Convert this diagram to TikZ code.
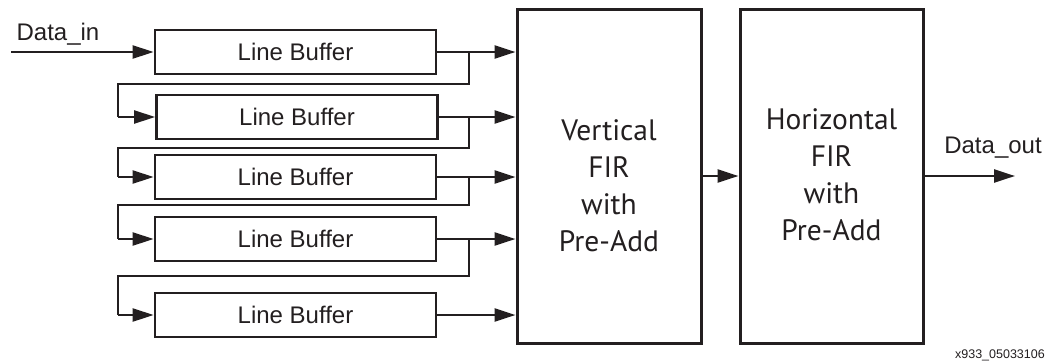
\documentclass[tikz,border=0pt]{standalone}
\usepackage{fontspec}
\setmainfont{Liberation Sans}
\newfontfamily\firfont{PT Sans}
\usetikzlibrary{arrows.meta}
\definecolor{ink}{rgb}{0.137,0.122,0.125}
\tikzset{
  buf/.style={draw=ink, line width=2.8pt, minimum width=281pt, minimum height=44pt, inner sep=0pt, font=\fontsize{24}{28}\selectfont, text=ink},
  fir/.style={draw=ink, line width=3pt, minimum height=334pt, inner sep=0pt},
  firtext/.style={align=center, font=\firfont\fontsize{29.5}{37}\selectfont, text=ink, inner sep=0pt},
  lbl/.style={font=\fontsize{24}{28}\selectfont, text=ink, inner sep=0pt},
  conn/.style={draw=ink, line width=2.4pt},
  loopline/.style={draw=ink, line width=2pt},
  arr/.style={conn, -{Triangle[length=21pt,width=13pt]}},
  tiny/.style={font=\fontsize{12.5}{14}\selectfont, text=ink, inner sep=0pt}
}
\begin{document}
\begin{tikzpicture}[x=1pt,y=-1pt]
\useasboundingbox (0,0) rectangle (1056,362);
% line buffers
\node[buf] (b1) at (295.5,52) {Line Buffer};
\node[buf] (b2) at (297,117) {Line Buffer};
\node[buf] (b3) at (295.5,177) {Line Buffer};
\node[buf] (b4) at (295.5,239) {Line Buffer};
\node[buf] (b5) at (295.5,315) {Line Buffer};
% FIR blocks
\node[fir, minimum width=184pt] (V) at (609,176) {};
\node[fir, minimum width=183pt] (H) at (831.5,176) {};
\node[firtext] (vt) at (609,186) {Vertical\\FIR\\with\\Pre-Add};
\node[firtext] (ht) at (831.5,175) {Horizontal\\FIR\\with\\Pre-Add};
% labels
\node[lbl] (din) at (58,34) {Data\_in};
\node[lbl] (dout) at (993,148) {Data\_out};
\node[tiny, anchor=east] (fig) at (1045,355) {x933\_05033106};
% coordinates
\coordinate (inS) at (11,52);
\coordinate (outE) at (1015,176);
\coordinate (t1) at (469,52);
\coordinate (t2) at (469,117);
\coordinate (t3) at (469,177);
\coordinate (t4) at (469,239);
% input
\draw[arr] (inS) -- (b1.west);
% outputs to vertical FIR
\draw[arr] (b1.east) -- (V.west |- b1.east);
\draw[arr] (b2.east) -- (V.west |- b2.east);
\draw[arr] (b3.east) -- (V.west |- b3.east);
\draw[arr] (b4.east) -- (V.west |- b4.east);
\draw[arr] (b5.east) -- (V.west |- b5.east);
% loops
\draw[loopline] (t1) -- (469,84) -- (118,84) -- (118,117);
\draw[arr] (118,117) -- (b2.west);
\draw[loopline] (t2) -- (469,148) -- (118,148) -- (118,177);
\draw[arr] (118,177) -- (b3.west);
\draw[loopline] (t3) -- (469,205) -- (118,205) -- (118,239);
\draw[arr] (118,239) -- (b4.west);
\draw[loopline] (t4) -- (469,276) -- (118,276) -- (118,315);
\draw[arr] (118,315) -- (b5.west);
% FIR chain
\draw[arr] (V.east) -- (H.west);
\draw[arr] (H.east) -- (outE);
\end{tikzpicture}
\end{document}
